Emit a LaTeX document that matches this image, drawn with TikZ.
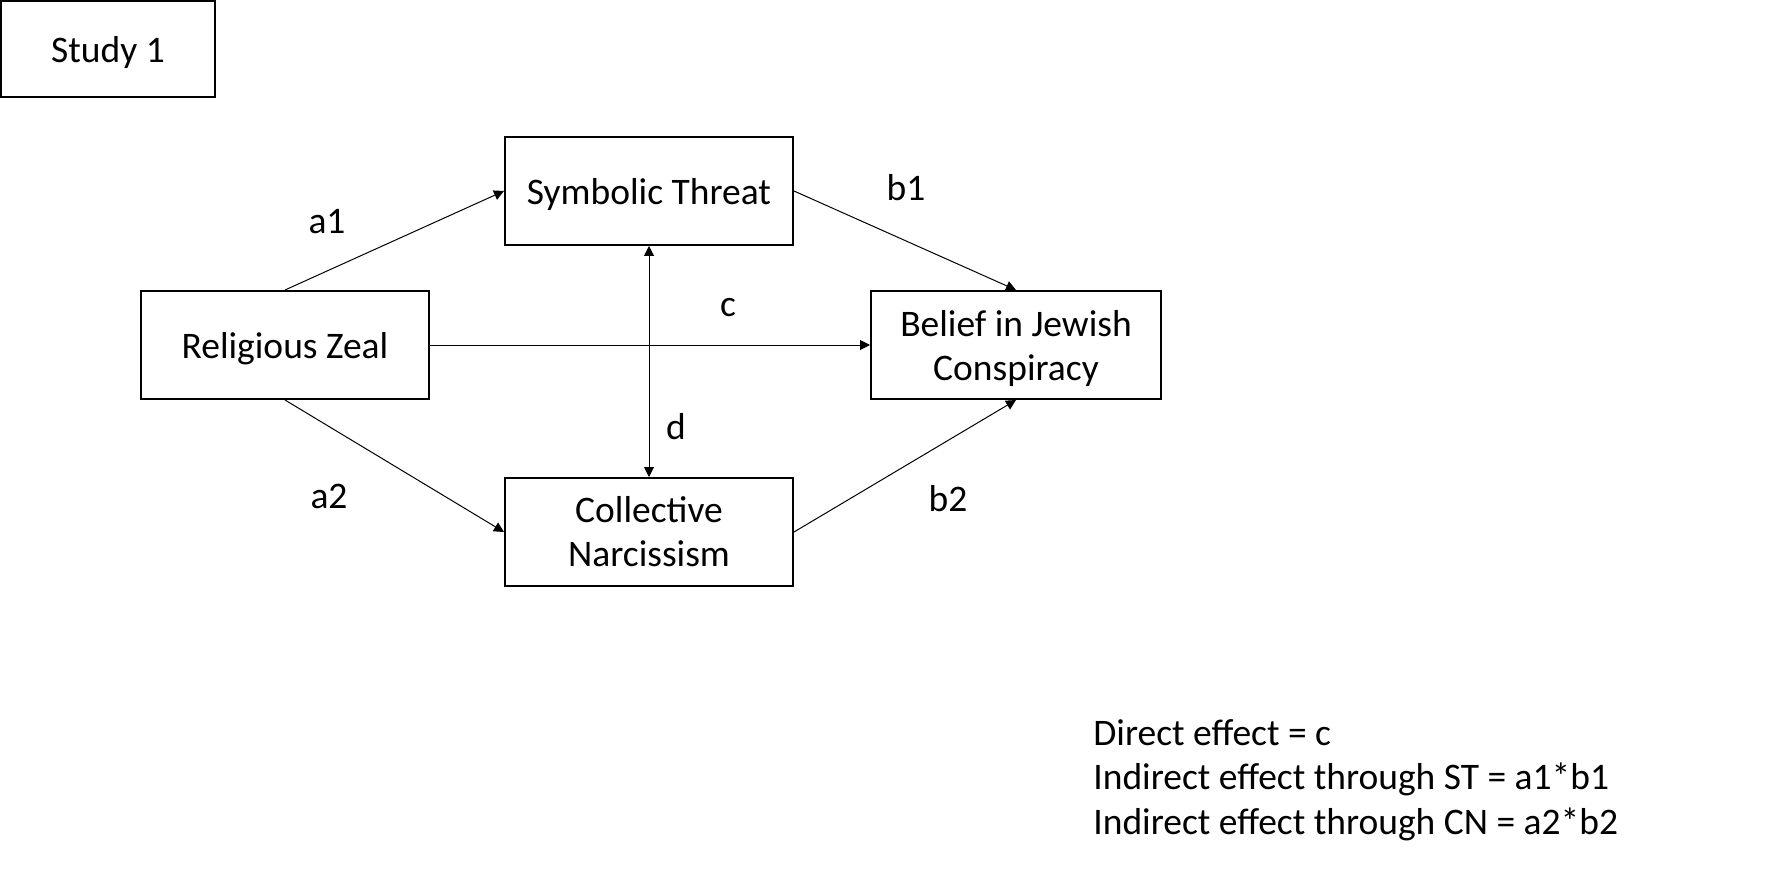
\documentclass[tikz,border=0pt]{standalone}
\usepackage{fontspec}
\setmainfont{Carlito}
\usetikzlibrary{arrows.meta}
\begin{document}
\begin{tikzpicture}[x=0.5pt,y=-0.5pt,
  font=\fontsize{18.75}{22}\selectfont,
  box/.style={draw, line width=1pt, align=center, inner sep=0pt,
    execute at begin node={\rule{0pt}{16.8pt}}},
  conn/.style={line width=0.5pt, -{Triangle[length=5pt,width=5pt]}},
  lbl/.style={inner sep=0pt}]
\useasboundingbox (0,0) rectangle (1767,893);
\node[box, minimum width=107pt, minimum height=48pt] (study) at (108,49) {Study 1};
\node[box, minimum width=144pt, minimum height=54pt] (st) at (649,191) {Symbolic Threat};
\node[box, minimum width=144pt, minimum height=54pt] (rz) at (285,345) {Religious Zeal};
\node[box, minimum width=145pt, minimum height=54pt] (bjc) at (1016,345) {Belief in Jewish\\\smash{Conspiracy}};
\node[box, minimum width=144pt, minimum height=54pt] (cn) at (649,532) {Collective\\Narcissism};
\draw[conn] (rz.north) -- (st.west);
\draw[conn] (rz.east) -- (bjc.west);
\draw[conn] (st.east) -- (bjc.north);
\draw[conn] (rz.south) -- (cn.west);
\draw[conn] (cn.east) -- (bjc.south);
\draw[conn, {Triangle[length=5pt,width=5pt]}-{Triangle[length=5pt,width=5pt]}] (st.south) -- (cn.north);
\node[lbl] (la1) at (327,222) {a1};
\node[lbl] (lb1) at (906,188) {b1};
\node[lbl] (lc) at (728,308) {c};
\node[lbl] (ld) at (676,427) {d};
\node[lbl] (la2) at (329,496) {a2};
\node[lbl] (lb2) at (948,499) {b2};
\node[lbl, anchor=base west] (eff1) at (1093,745) {Direct effect = c};
\node[lbl, anchor=base west] (eff2) at (1093,789) {Indirect effect through ST = a1*b1};
\node[lbl, anchor=base west] (eff3) at (1093,834) {Indirect effect through CN = a2*b2};
\end{tikzpicture}
\end{document}
